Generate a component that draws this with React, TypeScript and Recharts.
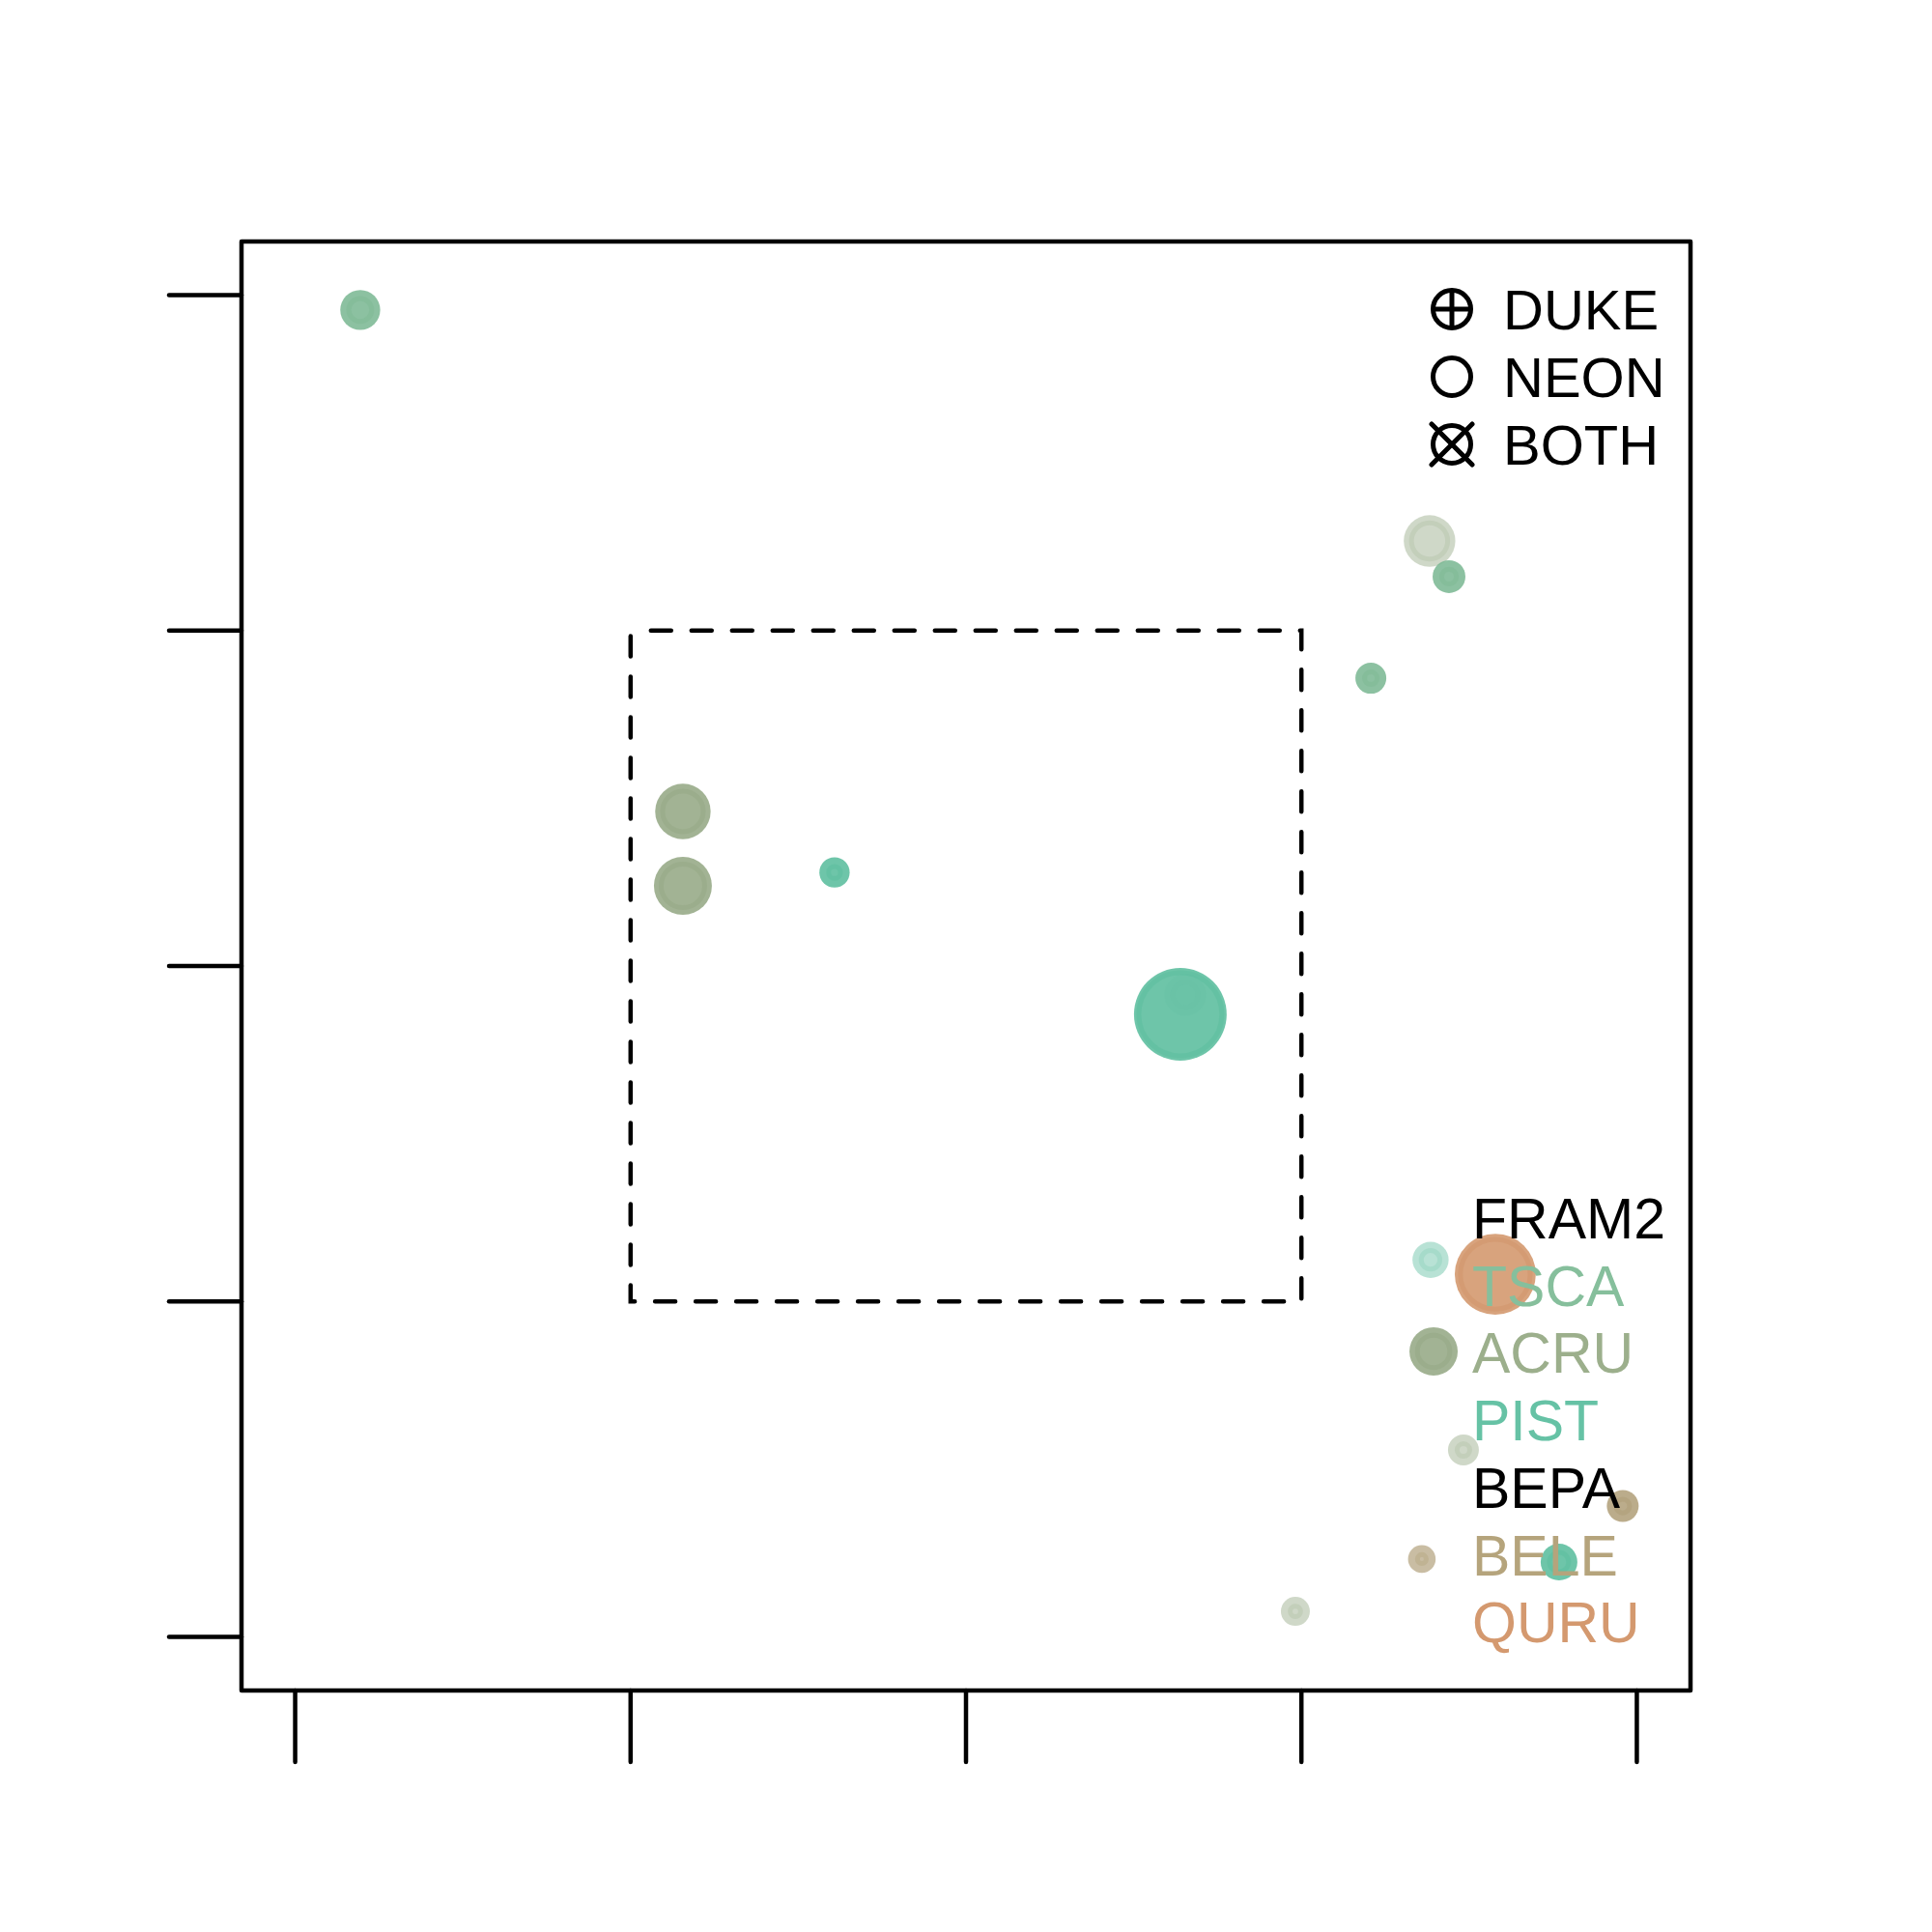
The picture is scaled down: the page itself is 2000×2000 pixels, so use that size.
import React from 'react';
import { ScatterChart, Scatter, XAxis, YAxis, ZAxis, ReferenceArea, Legend } from 'recharts';

// ---- data ----
const speciesNames = ['FRAM2', 'TSCA', 'ACRU', 'PIST', 'BEPA', 'BELE', 'QURU'];
const speciesColors = ['#000000', '#78b690', '#8da27c', '#55bb9a', '#000000', '#a8956a', '#cf8f60'];
const labelColors = ['#000000', '#86bf9c', '#9caf8c', '#66c2a5', '#000000', '#b5a47c', '#d4996f'];
const siteNames = ['DUKE', 'NEON', 'BOTH'];
const axisTicks = [0, 1, 2, 3, 4];
const axisDomain = [-0.16, 4.16];
const focusX = [1, 3];
const focusY = [1, 3];

const pointSpecies = ['ACRU', 'TSCA', 'TSCA', 'TSCA', 'ACRU', 'ACRU', 'PIST', 'PIST', 'PIST', 'PIST', 'QURU', 'ACRU', 'ACRU', 'BELE', 'BELE', 'PIST', 'ACRU'];
const pointX = [3.382, 0.194, 3.44, 3.207, 1.156, 1.156, 1.608, 2.639, 2.654, 3.385, 3.578, 3.394, 3.483, 3.958, 3.359, 3.768, 2.982];
const pointY = [3.267, 3.956, 3.161, 2.858, 2.461, 2.239, 2.279, 1.856, 1.914, 1.124, 1.081, 0.851, 0.557, 0.39, 0.232, 0.223, 0.076];
const pointZ = [7.13, 4.28, 2.89, 2.56, 8.24, 9.0, 2.46, 23.0, 4.7, 3.5, 17.6, 6.25, 2.56, 2.72, 2.04, 3.61, 2.25];
const pointAlpha = [0.42, 0.85, 0.85, 0.85, 0.82, 0.82, 0.85, 0.85, 0.1, 0.42, 0.82, 0.82, 0.42, 0.78, 0.62, 0.85, 0.42];

const points = pointX.map((x, i) => ({
  x,
  y: pointY[i],
  z: pointZ[i],
  species: pointSpecies[i],
  color: speciesColors[speciesNames.indexOf(pointSpecies[i])],
  alpha: pointAlpha[i],
}));

const FONT = '"Liberation Sans", Arial, Helvetica, sans-serif';

const Bubble = (props: any) => {
  const { cx, cy, payload } = props;
  const r = props.width ? props.width / 2 : Math.sqrt((props.size || 0) / Math.PI);
  const ringR = Math.max(4, 1.14 * r - 11.7);
  const ringOpacity = 0.42 * payload.alpha;
  return (
    <g>
      <circle cx={cx} cy={cy} r={r} fill={payload.color} fillOpacity={payload.alpha} />
      <circle cx={cx} cy={cy} r={ringR} fill="none" stroke={payload.color} strokeOpacity={ringOpacity} strokeWidth={5} />
    </g>
  );
};

const NoLabel = () => <g />;

const LegendOverlay = () => (
  <svg width={2000} height={2000} style={{ position: 'absolute', left: 0, top: 0, display: 'block', pointerEvents: 'none' }}>
    {siteNames.map((name, i) => {
      const cx = 1503;
      const cy = 320 + i * 70;
      const r = 19.5;
      const s = { stroke: '#000', strokeWidth: 5 };
      const d = 21;
      return (
        <g key={name}>
          <circle cx={cx} cy={cy} r={r} fill="none" stroke="#000" strokeWidth={5} />
          {i === 0 && (
            <g>
              <line x1={cx - r} x2={cx + r} y1={cy} y2={cy} {...s} />
              <line x1={cx} x2={cx} y1={cy - r} y2={cy + r} {...s} />
            </g>
          )}
          {i === 2 && (
            <g>
              <line x1={cx - d} x2={cx + d} y1={cy - d} y2={cy + d} {...s} strokeLinecap="round" />
              <line x1={cx - d} x2={cx + d} y1={cy + d} y2={cy - d} {...s} strokeLinecap="round" />
            </g>
          )}
          <text x={1556} y={cy + 21} fontSize={58} fontFamily={FONT} fill="#000">
            {name}
          </text>
        </g>
      );
    })}
    {speciesNames.map((name, i) => (
      <text key={name} x={1524} y={1282 + i * 69.7} fontSize={59} fontFamily={FONT} fill={labelColors[i]}>
        {name}
      </text>
    ))}
  </svg>
);

export default function App() {
  return (
    <div style={{ position: 'absolute', left: 0, top: 0, width: 2000, height: 2000, background: '#ffffff' }}>
      <ScatterChart width={2000} height={2000} margin={{ top: 250, right: 250, bottom: 150, left: 150 }}>
        <XAxis
          type="number"
          dataKey="x"
          domain={axisDomain}
          ticks={axisTicks}
          interval={0}
          allowDataOverflow
          tick={<NoLabel />}
          tickSize={74}
          tickLine={{ stroke: '#000', strokeWidth: 4.5, strokeLinecap: 'round' }}
          axisLine={false}
          height={100}
        />
        <YAxis
          type="number"
          dataKey="y"
          domain={axisDomain}
          ticks={axisTicks}
          interval={0}
          allowDataOverflow
          tick={<NoLabel />}
          tickSize={75}
          tickLine={{ stroke: '#000', strokeWidth: 4.5, strokeLinecap: 'round' }}
          axisLine={false}
          width={100}
        />
        <ZAxis type="number" dataKey="z" domain={[0, 25]} range={[0, 7854]} />
        <ReferenceArea
          x1={focusX[0]}
          x2={focusX[1]}
          y1={focusY[0]}
          y2={focusY[1]}
          fill="none"
          fillOpacity={0}
          stroke="#000"
          strokeWidth={4.5}
          strokeDasharray="21 21"
          strokeDashoffset={21}
          strokeLinecap="round"
          ifOverflow="visible"
        />
        <Scatter data={points} shape={Bubble} isAnimationActive={false} />
        <ReferenceArea
          x1={axisDomain[0]}
          x2={axisDomain[1]}
          y1={axisDomain[0]}
          y2={axisDomain[1]}
          fill="none"
          fillOpacity={0}
          stroke="#000"
          strokeWidth={4.5}
          strokeLinejoin="round"
          ifOverflow="visible"
        />
        <Legend
          layout="horizontal"
          verticalAlign="middle"
          align="center"
          content={() => <LegendOverlay />}
          wrapperStyle={{ left: 0, top: 0, width: 2000, height: 2000, pointerEvents: 'none' }}
        />
      </ScatterChart>
    </div>
  );
}
